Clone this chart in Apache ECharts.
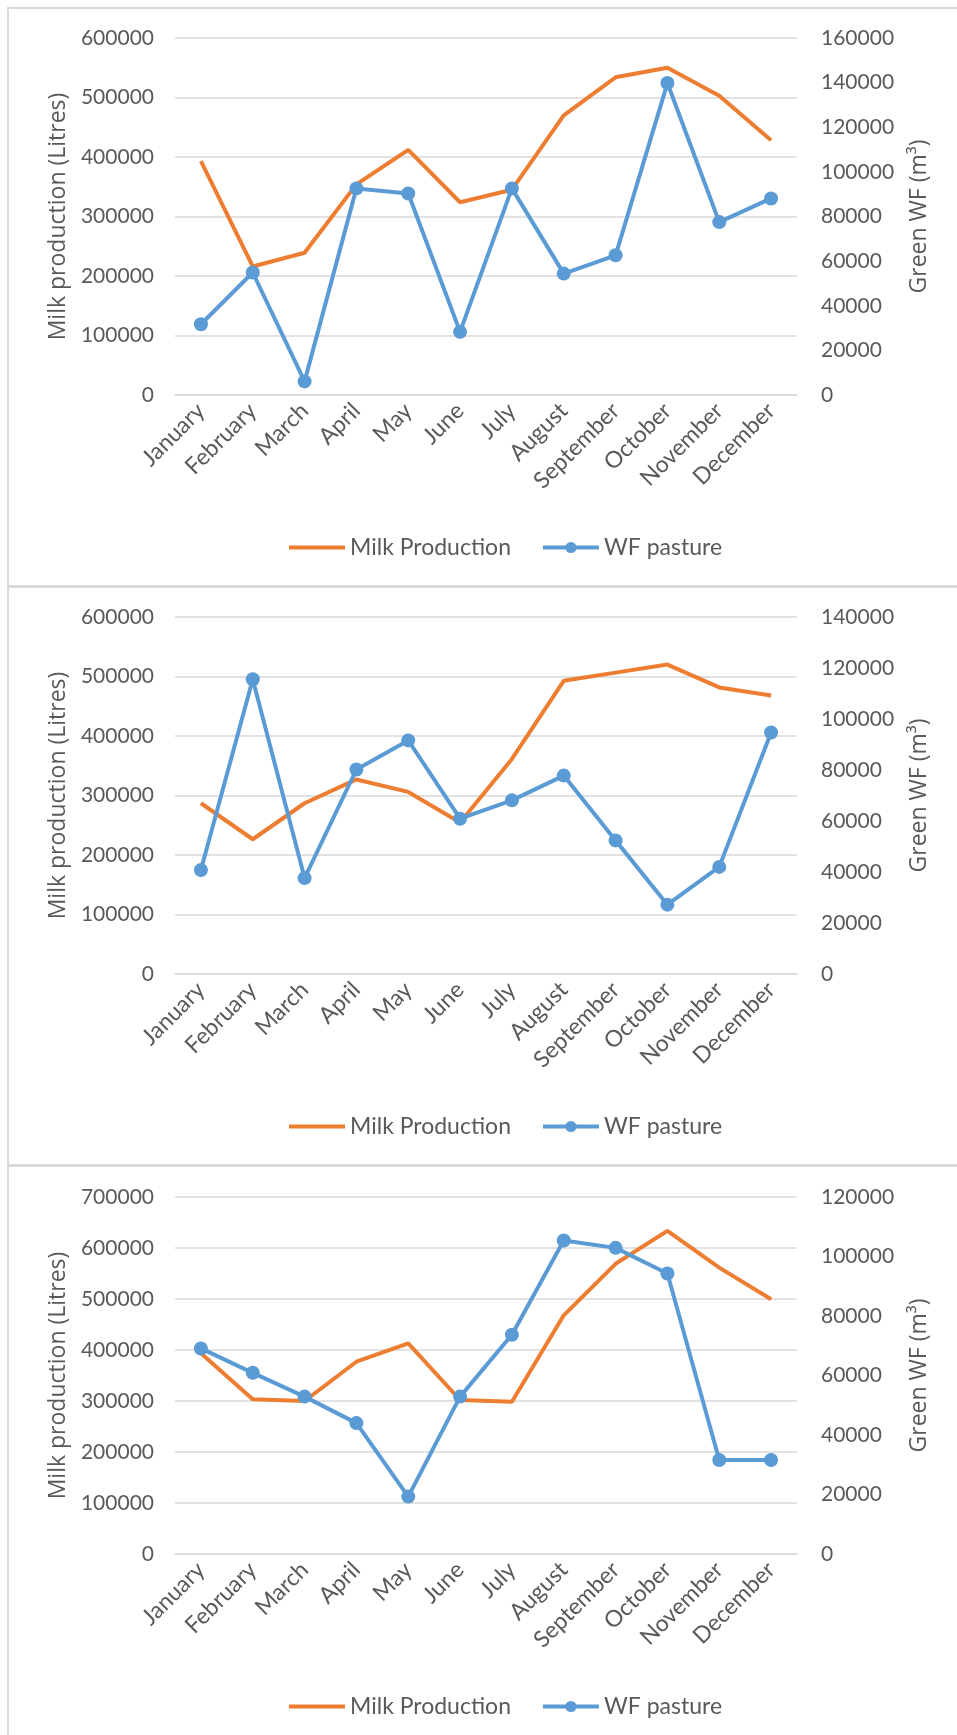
<!DOCTYPE html>
<html>
<head>
<meta charset="utf-8">
<script src="https://cdn.jsdelivr.net/npm/echarts@6/dist/echarts.min.js"></script>
<style>
  html, body { margin: 0; padding: 0; background: #fff; }
  body { width: 957px; height: 1735px; position: relative; overflow: hidden; }
  .box { position: absolute; left: 7px; width: 1000px; height: 576px; border: 2px solid #dadada; }
  .chart { position: absolute; left: 0; width: 957px; height: 579px; }
</style>
</head>
<body>
<div class="box" style="top:7px"></div>
<div class="box" style="top:586px"></div>
<div class="box" style="top:1165px"></div>
<div id="c1" class="chart" style="top:0px"></div>
<div id="c2" class="chart" style="top:579px"></div>
<div id="c3" class="chart" style="top:1159px"></div>
<script>
const months = ['January', 'February', 'March', 'April', 'May', 'June', 'July', 'August', 'September', 'October', 'November', 'December'];

// panel 1
const milk1 = [393000, 216000, 239000, 354000, 412000, 324000, 345000, 470000, 534000, 550000, 503000, 428000];
const wf1 = [31700, 54900, 6100, 92600, 90300, 28300, 92600, 54400, 62600, 139800, 77500, 88100];
// panel 2
const milk2 = [287000, 226500, 287000, 327000, 306000, 254500, 361500, 492800, 506500, 520000, 481600, 468000];
const wf2 = [40800, 115600, 37600, 80200, 91600, 60900, 68100, 77800, 52400, 27200, 42000, 94700];
// panel 3
const milk3 = [393700, 303500, 300000, 377000, 413000, 302000, 298500, 468000, 569000, 633700, 561600, 499600];
const wf3 = [69100, 60900, 52900, 44000, 19300, 52900, 73700, 105400, 102900, 94300, 31600, 31600];

const milkMax = [600000, 600000, 700000];
const wfMax = [160000, 140000, 120000];

const grey = '#595959';
const orange = '#ED7D31';
const blue = '#5B9BD5';

function drawPanel(id, milk, wf, lmax, rmax) {
    const chart = echarts.init(document.getElementById(id));
    const option = {
        animation: false,
        textStyle: { fontFamily: 'Lato' },
        legend: {
            left: 282,
            top: 531,
            itemWidth: 56,
            itemHeight: 14,
            itemGap: 30,
            lineStyle: { width: 4 },
            textStyle: { fontFamily: 'Lato', fontSize: 23, color: grey },
            // milk line has no markers, so hide the dot in its legend icon
            data: [
                { name: 'Milk Production', itemStyle: { opacity: 0 } },
                'WF pasture'
            ]
        },
        grid: { left: 175, right: 160, top: 38, height: 357, containLabel: false },
        xAxis: {
            type: 'category',
            data: months,
            boundaryGap: true,
            axisLine: { lineStyle: { color: '#d9d9d9', width: 1.5 } },
            axisTick: { show: false },
            axisLabel: { rotate: 45, interval: 0, margin: 12, color: grey, fontFamily: 'Lato', fontSize: 23 }
        },
        yAxis: [
            {
                type: 'value',
                min: 0,
                max: lmax,
                interval: 100000,
                name: 'Milk production (Litres)',
                nameLocation: 'middle',
                nameRotate: 90,
                nameGap: 103,
                nameTextStyle: { fontFamily: 'Open Sans', fontSize: 23, color: grey },
                axisLine: { show: false },
                axisTick: { show: false },
                splitLine: { lineStyle: { color: '#d9d9d9', width: 1.5 } },
                axisLabel: { margin: 21, color: grey, fontFamily: 'Lato', fontSize: 21, formatter: v => String(v) }
            },
            {
                type: 'value',
                position: 'right',
                min: 0,
                max: rmax,
                interval: 20000,
                name: 'Green WF (m³)',
                nameLocation: 'middle',
                nameRotate: 90,
                nameGap: 111,
                nameTextStyle: { fontFamily: 'Open Sans', fontSize: 23, color: grey },
                axisLine: { show: false },
                axisTick: { show: false },
                splitLine: { show: false },
                axisLabel: { margin: 24, color: grey, fontFamily: 'Lato', fontSize: 21, formatter: v => String(v) }
            }
        ],
        series: [
            {
                name: 'Milk Production',
                type: 'line',
                yAxisIndex: 0,
                data: milk,
                symbol: 'none',
                itemStyle: { color: orange },
                lineStyle: { color: orange, width: 4 }
            },
            {
                name: 'WF pasture',
                type: 'line',
                yAxisIndex: 1,
                data: wf,
                symbol: 'circle',
                symbolSize: 14,
                itemStyle: { color: blue },
                lineStyle: { color: blue, width: 4 }
            }
        ]
    };
    chart.setOption(option);
}

drawPanel('c1', milk1, wf1, milkMax[0], wfMax[0]);
drawPanel('c2', milk2, wf2, milkMax[1], wfMax[1]);
drawPanel('c3', milk3, wf3, milkMax[2], wfMax[2]);
</script>
</body>
</html>
